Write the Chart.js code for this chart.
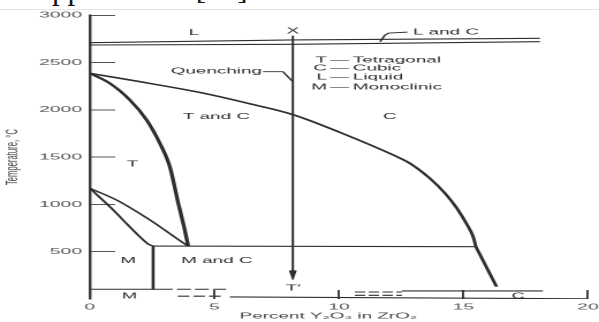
<!DOCTYPE html>
<html><head><meta charset="utf-8">
<script src="https://cdn.jsdelivr.net/npm/chart.js@4.4.1/dist/chart.umd.min.js"></script>
<style>
html,body{margin:0;padding:0;background:#fff;width:599px;height:322px;overflow:hidden;position:relative}
#cap{position:absolute;left:-47px;top:-27.5px;font-size:31px;font-family:"Liberation Serif","Times New Roman",serif;line-height:31px;color:#111;white-space:nowrap}
#rule{position:absolute;left:0;top:9px;width:599px;height:0;border-top:1px solid #e4e4e4}
#wrap{position:absolute;left:0;top:0;width:260px;height:322px;transform:scaleX(2.30385);transform-origin:0 0}
</style></head><body>
<div id="cap">SOFC applications [20].</div>
<div id="rule"></div>
<div id="wrap"><canvas id="c" width="260" height="322"></canvas></div>
<script>
// ---- axis ticks ----
const xTicks = [0, 5, 10, 15, 20];
const yTicks = [0, 500, 1000, 1500, 2000, 2500, 3000];

// ---- phase boundaries: [percent Y2O3, temperature °C] ----
const liquidusUpper = [[0, 2710], [8.15, 2739], [18.07, 2757]];
const liquidusLower = [[0, 2686], [8.15, 2693], [18.07, 2721]];
const cubicBoundary = [[0, 2387], [2.41, 2280], [4.42, 2184], [6.43, 2064], [8.15, 1950], [10.04, 1762],
  [12.45, 1490], [12.85, 1435], [13.65, 1276], [14.26, 1118], [14.73, 962], [15.13, 793], [15.39, 659], [15.5, 553]];
const cubicTail = [[15.5, 553], [16.33, 130]];
const tetragonalBoundary = [[0, 2387], [0.8, 2281], [1.61, 2104], [2.28, 1893], [2.81, 1647], [3.21, 1399],
  [3.55, 1012], [3.78, 765], [3.95, 560]];
const eutectoidUpper = [[0, 1171], [1.07, 1047], [2.41, 836], [3.88, 571], [3.95, 560]];
const eutectoidLower = [[0, 1171], [0.94, 941], [1.5, 790], [2.0, 660], [2.35, 580], [2.54, 560]];
const eutectoidLine = [[2.54, 560], [15.5, 553]];
const monoclinicEdge = [[2.54, 560], [2.54, 103]];

// ---- room-temperature strip ----
const stripMSolid = [[0, 103], [3.33, 103]];
const stripMDashA = [[3.5, 103], [5.47, 103]];
const stripMDashB = [[3.53, 30], [5.34, 30]];
const baseLine = [[5.62, 22], [20, 2]];
const stripCDashA = [[10.64, 74], [12.53, 74]];
const stripCDashB = [[10.64, 39], [12.53, 39]];
const stripCTop = [[12.53, 85], [18.19, 85]];

// ---- quench arrow and leaders ----
const quenchPath = [[8.15, 2780], [8.15, 290]];
const quenchHead = [[8.02, 300], [8.28, 300], [8.15, 205], [8.02, 300]];
const quenchLeader = [[6.95, 2404], [7.75, 2404], [8.15, 2298]];
const liquidLeader = [[11.65, 2721], [11.85, 2790], [12.0, 2812], [12.75, 2822]];

// ---- texts ----
const phaseLabels = ['L', 'X', 'T and C', 'C', 'T', 'M', 'M and C', 'T\u2032', 'M', 'C'];
const phaseLabelAt = [[4.18, 2813], [8.15, 2834], [5.08, 1925], [12.05, 1925], [1.71, 1425], [1.54, 405],
  [5.10, 402], [8.16, 113], [1.59, 28], [17.2, 28]];
const quenchText = 'Quenching';
const quenchTextAt = [6.91, 2411];
const liquidCubicText = 'L and C';
const liquidCubicAt = [12.97, 2820];
const keyLetters = ['T', 'C', 'L', 'M'];
const keyNames = ['Tetragonal', 'Cubic', 'Liquid', 'Monoclinic'];
const keyRowTemps = [2527, 2440, 2344, 2239];
const keyColumns = [9.52, 10.02, 10.56];
const xTitle = 'Percent Y\u2082O\u2083 in ZrO\u2082';
const yTitle = 'Temperature, \u00b0C';

const INK = '#2e2e2e';
const FONT = '"Liberation Sans", Arial, sans-serif';
const line = (pts, w, extra) => Object.assign({
  data: pts.map(([x, y]) => ({x, y})), borderColor: INK, borderWidth: w,
  pointRadius: 0, pointHoverRadius: 0, fill: false, tension: 0, borderJoinStyle: 'round'
}, extra || {});
const curve = {cubicInterpolationMode: 'monotone'};

const datasets = [
  line(liquidusUpper, 1.1),
  line(liquidusLower, 1.1),
  line(cubicBoundary, 1.5, curve),
  line(cubicTail, 1.5),
  line(tetragonalBoundary, 1.7, curve),
  line(eutectoidUpper, 1.2, curve),
  line(eutectoidLower, 1.2, curve),
  line(eutectoidLine, 1.1),
  line(monoclinicEdge, 1.3),
  line(stripMSolid, 1.1),
  line(stripMDashA, 1.1, {borderDash: [6, 1.8]}),
  line(stripMDashB, 1.1, {borderDash: [5, 1.8]}),
  line(baseLine, 1.1),
  line(stripCDashA, 1.1, {borderDash: [4.5, 1.5]}),
  line(stripCDashB, 1.1, {borderDash: [4.5, 1.5]}),
  line(stripCTop, 1.1),
  line(quenchPath, 1.0),
  line(quenchHead, 0.6, {fill: 'shape', backgroundColor: INK}),
  line(quenchLeader, 0.9),
  line(liquidLeader, 0.9)
];

const textPlugin = {
  id: 'phaseText',
  afterDatasetsDraw(chart) {
    const {ctx, scales: {x, y}} = chart;
    ctx.save();
    ctx.fillStyle = '#2a2a2a';
    ctx.textBaseline = 'middle';
    const put = (t, p, al, size) => {
      ctx.font = (size || 8.2) + 'px ' + FONT;
      ctx.textAlign = al;
      ctx.fillText(t, x.getPixelForValue(p[0]), y.getPixelForValue(p[1]));
    };
    phaseLabels.forEach((t, i) => put(t, phaseLabelAt[i], 'center', i >= 8 ? 8 : 8.2));
    put(quenchText, quenchTextAt, 'right');
    put(liquidCubicText, liquidCubicAt, 'left');
    keyLetters.forEach((t, i) => {
      put(t, [keyColumns[0], keyRowTemps[i]], 'right');
      put('\u2014', [keyColumns[1], keyRowTemps[i]], 'center');
      put(keyNames[i], [keyColumns[2], keyRowTemps[i]], 'left');
    });
    ctx.restore();
  }
};

new Chart(document.getElementById('c'), {
  type: 'line',
  data: {datasets},
  plugins: [textPlugin],
  options: {
    responsive: false,
    devicePixelRatio: 2,
    animation: false,
    events: [],
    layout: {padding: {left: 0, top: 15.3, right: 4.8, bottom: 0}},
    plugins: {legend: {display: false}, tooltip: {enabled: false}},
    scales: {
      x: {
        type: 'linear', min: 0, max: 20,
        afterBuildTicks: s => { s.ticks = xTicks.map(v => ({value: v})); },
        afterFit: s => { s.height = 23; s.paddingLeft = 0; s.paddingRight = 0; },
        border: {display: false},
        grid: {display: true, drawOnChartArea: false, drawTicks: true, tickLength: -9, tickWidth: 1,
          tickColor: c => (c.tick && c.tick.value === 0) ? 'rgba(0,0,0,0)' : '#444'},
        ticks: {padding: 12, color: '#555', font: {family: FONT, size: 8.4}, maxRotation: 0, autoSkip: false,
          callback: v => String(v)},
        title: {display: true, text: xTitle + '\u00a0\u00a0\u00a0\u00a0', color: '#444',
          font: {family: FONT, size: 8.2}, padding: {top: 0, bottom: 1}}
      },
      y: {
        type: 'linear', min: 0, max: 3000,
        afterBuildTicks: s => { s.ticks = yTicks.map(v => ({value: v})); },
        afterFit: s => { s.width = 39; s.paddingTop = 0; s.paddingBottom = 0; },
        border: {display: true, color: '#3a3a3a', width: 1.2},
        grid: {display: true, drawOnChartArea: false, drawTicks: true, tickLength: -11, tickWidth: 1,
          tickColor: c => (c.tick && c.tick.value === 0) ? 'rgba(0,0,0,0)' : '#555'},
        ticks: {padding: 14.4, color: '#555', font: {family: FONT, size: 8.4}, autoSkip: false,
          callback: v => v === 0 ? '' : String(v)},
        title: {display: true, text: yTitle, color: '#444',
          font: {family: FONT, size: 7.7}, padding: {top: 1, bottom: 0}}
      }
    }
  }
});
</script></body></html>
